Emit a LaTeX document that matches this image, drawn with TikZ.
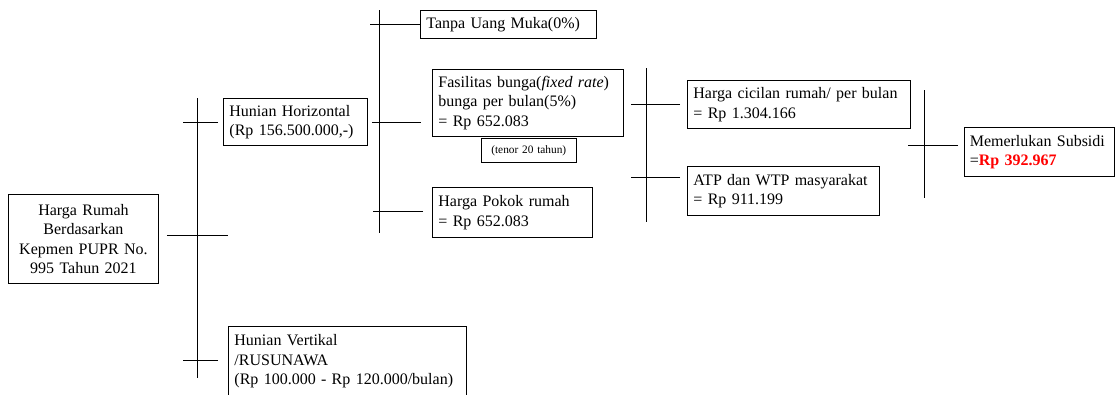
\documentclass[tikz,border=0pt]{standalone}
\usepackage{fontspec}
\setmainfont{Liberation Serif}
\begin{document}
\begin{tikzpicture}[
x=0.75pt, y=-0.75pt,
line width=0.65pt,
box/.style={
draw,
anchor=north west,
align=left,
inner xsep=4.5pt,
inner ysep=0pt,
font=\fontsize{12}{14.6}\selectfont
}
]

\useasboundingbox (0,0) rectangle (1116,394);

\node[box, align=center, text width=103.5pt, minimum height=66.75pt] (harga) at (8,194) {Harga Rumah\\Berdasarkan\\Kepmen PUPR No.\\995 Tahun 2021};

\node[box, text width=99pt, minimum height=35.25pt] (horiz) at (223,98) {Hunian Horizontal\\(Rp 156.500.000,-)};
\node[box, text width=169.5pt, minimum height=52.5pt] (vert) at (228,326) {Hunian Vertikal\\/RUSUNAWA\\(Rp 100.000 - Rp 120.000/bulan)};

\node[box, text width=123pt, minimum height=21pt] (tanpa) at (420,10) {Tanpa Uang Muka(0\%)};
\node[box, text width=134.25pt, minimum height=50.25pt] (bunga) at (432,69) {Fasilitas bunga(\textit{fixed rate})\\bunga per bulan(5\%)\\= Rp 652.083};
\node[box, align=center, inner xsep=3pt, text width=65pt, minimum height=18pt, font=\fontsize{8.5}{10}\selectfont] (tenor) at (481,138) {(tenor 20 tahun)};
\node[box, text width=111pt, minimum height=37.5pt] (pokok) at (432,187) {Harga Pokok rumah\\= Rp 652.083};

\node[box, text width=158.25pt, minimum height=36pt] (cicilan) at (687,80) {Harga cicilan rumah/ per bulan\\= Rp 1.304.166};
\node[box, text width=135pt, minimum height=36.75pt] (atp) at (687,166) {ATP dan WTP masyarakat\\= Rp 911.199};

\node[box, inner xsep=4pt, text width=104.5pt, minimum height=36.75pt] (subsidi) at (964,127) {Memerlukan Subsidi\\=\textcolor{red}{\textbf{Rp 392.967}}};

\coordinate (t1a) at (197,98);
\coordinate (t1b) at (197,378);
\coordinate (t2a) at (379,10);
\coordinate (t2b) at (379,233);
\coordinate (t3a) at (646,68);
\coordinate (t3b) at (646,222);
\coordinate (t4a) at (924,90);
\coordinate (t4b) at (924,198);

\draw (t1a) -- (t1b);
\draw (t2a) -- (t2b);
\draw (t3a) -- (t3b);
\draw (t4a) -- (t4b);

\draw (harga.east) ++(8,-4) -- ++(61,0);
\draw (horiz.west) ++(-5,0) -- ++(-35,0);
\draw (vert.west) ++(-10,-1) -- ++(-35,0);

\draw (horiz.east) ++(4,0) -- ++(49,0);
\draw (tanpa.west) -- ++(-50,0);
\draw (pokok.west) ++(-9,-1) -- ++(-50,0);

\draw (cicilan.west) ++(-7,0) -- ++(-49,0);
\draw (atp.west) ++(-7,-14) -- ++(-49,0);

\draw (subsidi.west) ++(-6,-7) -- ++(-50,0);

\end{tikzpicture}
\end{document}
